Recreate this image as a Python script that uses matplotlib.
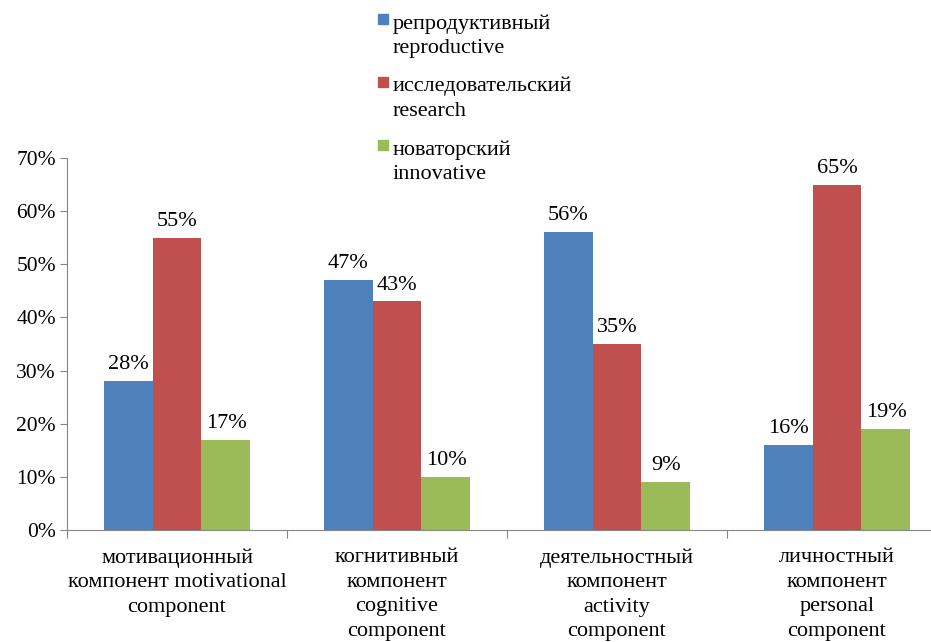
import matplotlib.pyplot as plt
import matplotlib.patches as mpatches
import numpy as np

categories = [
    "мотивационный\nкомпонент motivational\ncomponent",
    "когнитивный\nкомпонент\ncognitive\ncomponent",
    "деятельностный\nкомпонент\nactivity\ncomponent",
    "личностный\nкомпонент\npersonal\ncomponent",
]
series_names = [
    "репродуктивный\nreproductive",
    "исследовательский\nresearch",
    "новаторский\ninnovative",
]
reproductive = [28, 47, 56, 16]
research = [55, 43, 35, 65]
innovative = [17, 10, 9, 19]
colors = ["#4F81BD", "#C0504D", "#9BBB59"]
y_ticks = [0, 10, 20, 30, 40, 50, 60, 70]

plt.rcParams['font.family'] = ['Liberation Serif', 'DejaVu Serif']
axis_grey = "#868686"
fs = 16

W, H = 931, 642
fig = plt.figure(figsize=(W / 100, H / 100), dpi=100)
# the plot area runs a little past the right edge of the figure
ax = fig.add_axes([67 / W, (H - 530) / H, (947 - 67) / W, (530 - 158) / H])

x = np.arange(len(categories))
bw = 0.2227
for j, (vals, c) in enumerate(zip([reproductive, research, innovative], colors)):
    pos = x + (j - 1) * bw
    ax.bar(pos, vals, width=bw, color=c, edgecolor="none")
    for px, v in zip(pos, vals):
        ax.annotate(f"{v}%", (px, v), xytext=(0, 5), textcoords="offset points",
                    ha="center", va="bottom", fontsize=fs)

ax.set_xlim(-0.5, len(categories) - 0.5)
ax.set_ylim(0, 70)
ax.set_yticks(y_ticks)
ax.set_yticklabels([f"{t}%" for t in y_ticks], fontsize=15.5)

ax.set_xticks(np.arange(len(categories) + 1) - 0.5)
ax.set_xticklabels([])
ax.set_xticks(x, minor=True)
ax.set_xticklabels(categories, minor=True, fontsize=fs, linespacing=1.4)
ax.tick_params(axis="x", which="minor", length=0, pad=13)
ax.tick_params(axis="x", which="major", length=6, color=axis_grey)
ax.tick_params(axis="y", length=5, color=axis_grey, pad=3)

for s in ["top", "right"]:
    ax.spines[s].set_visible(False)
for s in ["left", "bottom"]:
    ax.spines[s].set_color(axis_grey)

# legend drawn by hand so the marker sits beside the first line
for i, (name, c) in enumerate(zip(series_names, colors)):
    top = 14 + i * 63
    fig.patches.append(mpatches.Rectangle((378 / W, 1 - (top + 10) / H), 10 / W, 10 / H,
                                          transform=fig.transFigure, color=c))
    fig.text(393 / W, 1 - top / H, name, fontsize=fs, va="top", ha="left",
             linespacing=1.4)

fig.savefig("out.png", dpi=100)
